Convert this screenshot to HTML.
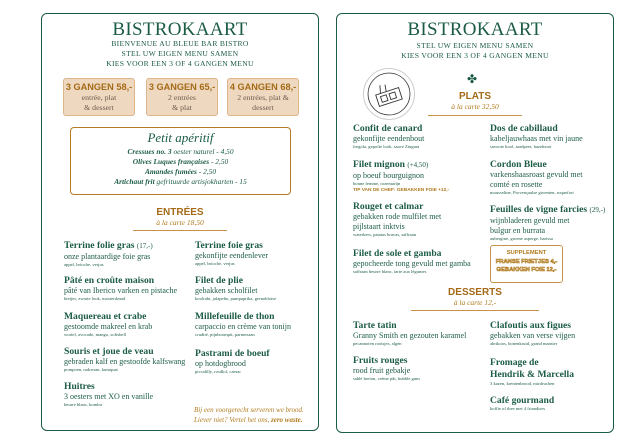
<!DOCTYPE html>
<html><head><meta charset="utf-8"><style>
*{margin:0;padding:0;box-sizing:border-box}
body{width:640px;height:448px;background:#fff;position:relative;overflow:hidden;font-family:"Liberation Serif",serif;color:#1c5c44}
.a{position:absolute;white-space:nowrap}
.panel{position:absolute;border:1.3px solid #1c5c44;border-radius:6px}
.big{font-size:19px;letter-spacing:0.3px;text-align:center;line-height:1}
.sub{font-size:7.6px;text-align:center;line-height:10.2px;letter-spacing:0.3px}
.box{position:absolute;background:#eed8c0;border:1px solid #dcb58b;border-radius:3px;text-align:center;color:#6b5a4a;font-size:7.8px;line-height:10px}
.box b{display:block;font-family:"Liberation Sans",sans-serif;font-weight:900;color:#a46a16;font-size:9.2px;line-height:12px;margin-top:2px}
.h{font-family:"Liberation Sans",sans-serif;font-weight:900;color:#a46a16;text-align:center;font-size:10px;line-height:1}
.ac{font-style:italic;color:#b07a1c;text-align:center;font-size:7.5px;line-height:1}
.line{position:absolute;height:1.2px;background:#c8924a}
.t{font-weight:bold;font-size:9.6px;line-height:11px}
.t span{font-weight:normal;font-size:7px}
.d{font-size:8px;line-height:10px}
.s{font-size:4.6px;line-height:6px}
</style></head><body>
<div class="panel" style="left:41px;top:13px;width:278px;height:418px"></div>
<div class="panel" style="left:336px;top:13px;width:278px;height:420px"></div>

<!-- LEFT -->
<div class="a big" style="left:41px;width:278px;top:20px">BISTROKAART</div>
<div class="a sub" style="left:41px;width:278px;top:39px">BIENVENUE AU BLEUE BAR BISTRO<br>STEL UW EIGEN MENU SAMEN<br>KIES VOOR EEN 3 OF 4 GANGEN MENU</div>
<div class="box" style="left:63px;top:78px;width:72px;height:38px"><b>3 GANGEN 58,-</b>entrée, plat<br>&amp; dessert</div>
<div class="box" style="left:146px;top:78px;width:72px;height:38px"><b>3 GANGEN 65,-</b>2 entrées<br>&amp; plat</div>
<div class="box" style="left:227px;top:78px;width:72px;height:38px"><b>4 GANGEN 68,-</b>2 entrées, plat &amp;<br>dessert</div>
<div class="a" style="left:70px;top:127px;width:221px;height:68px;border:1.5px solid #b57a24;border-radius:4px"></div>
<div class="a" style="left:70px;width:221px;top:130px;text-align:center;font-style:italic;font-size:13px">Petit apéritif</div>
<div class="a" style="left:70px;width:221px;top:147px;text-align:center;font-style:italic;font-size:7.4px;line-height:10px"><b>Cressues no. 3</b> oester naturel - 4,50<br><b>Olives Luques françaises</b> - 2,50<br><b>Amandes fumées</b> - 2,50<br><b>Artichaut frit</b> gefrituurde artisjokharten - 15</div>
<div class="a h" style="left:41px;width:278px;top:208px">ENTRÉES</div>
<div class="a ac" style="left:41px;width:278px;top:219px">à la carte 18,50</div>
<div class="line" style="left:133px;top:230px;width:94px"></div>

<div class="a" style="left:64px;top:240px"><div class="t">Terrine folie gras <span>(17,-)</span></div><div class="d">onze plantaardige foie gras</div><div class="s">appel, brioche, verjus</div></div>
<div class="a" style="left:64px;top:275px"><div class="t">Pâté en croûte maison</div><div class="d">pâté van Iberico varken en pistache</div><div class="s">bietjes, zwarte look, mosterdzaad</div></div>
<div class="a" style="left:64px;top:311px"><div class="t">Maquereau et crabe</div><div class="d">gestoomde makreel en krab</div><div class="s">wortel, avocado, mango, softshell</div></div>
<div class="a" style="left:64px;top:346px"><div class="t">Souris et joue de veau</div><div class="d">gebraden kalf en gestoofde kalfswang</div><div class="s">pompoen, radoeran, kumquat</div></div>
<div class="a" style="left:64px;top:381px"><div class="t">Huitres</div><div class="d">3 oesters met XO en vanille</div><div class="s">beurre blanc, kombu</div></div>

<div class="a" style="left:195px;top:240px"><div class="t">Terrine foie gras</div><div class="d">gekonfijte eendenlever</div><div class="s">appel, brioche, verjus</div></div>
<div class="a" style="left:195px;top:275px"><div class="t">Filet de plie</div><div class="d">gebakken scholfilet</div><div class="s">koolrabi, jalapeño, puntpaprika, grenobloise</div></div>
<div class="a" style="left:195px;top:311px"><div class="t">Millefeuille de thon</div><div class="d">carpaccio en crème van tonijn</div><div class="s">crudité, pijnboompit, parmezaan</div></div>
<div class="a" style="left:195px;top:348px"><div class="t">Pastrami de boeuf</div><div class="d">op hotdogbrood</div><div class="s">piccalilly, rosdlof, caesar</div></div>
<div class="a" style="left:194px;top:405px;font-style:italic;color:#b07a1c;font-size:7px;line-height:10px">Bij een voorgerecht serveren we brood.<br>Liever niet? Vertel het ons, <b>zero waste.</b></div>

<!-- RIGHT -->
<div class="a big" style="left:336px;width:278px;top:20px">BISTROKAART</div>
<div class="a sub" style="left:336px;width:278px;top:41px">STEL UW EIGEN MENU SAMEN<br>KIES VOOR EEN 3 OF 4 GANGEN MENU</div>
<svg class="a" style="left:362px;top:67px" width="54" height="54" viewBox="0 0 54 54"><circle cx="27" cy="27" r="25.5" fill="#fff" stroke="#ccc" stroke-width="1"/><circle cx="27" cy="27" r="21" fill="none" stroke="#333" stroke-width="0.8"/><g transform="rotate(-18 27 30)" fill="none" stroke="#333" stroke-width="0.9"><rect x="15" y="24" width="24" height="12"/><rect x="19" y="27" width="6" height="6"/><rect x="28" y="27" width="6" height="6"/><path d="M20 24 L22 16 M26 24 L27 17"/></g></svg>
<div class="a" style="left:467px;top:72px;color:#1c5c44;font-size:12px">✤</div>
<div class="a h" style="left:336px;width:278px;top:92px">PLATS</div>
<div class="a ac" style="left:336px;width:278px;top:103px">à la carte 32,50</div>
<div class="line" style="left:428px;top:115px;width:94px"></div>

<div class="a" style="left:353px;top:123px"><div class="t">Confit de canard</div><div class="d">gekonfijte eendenbout</div><div class="s">fregola, gepofte look, sauce Zingara</div></div>
<div class="a" style="left:353px;top:159px"><div class="t">Filet mignon <span>(+4,50)</span></div><div class="d">op boeuf bourguignon</div><div class="s">bonne femme, rozemarijn</div><div style="font-family:'Liberation Sans',sans-serif;font-weight:bold;color:#b07a1c;font-size:4.8px;line-height:7px">TIP VAN DE CHEF: GEBAKKEN FOIE +12,-</div></div>
<div class="a" style="left:353px;top:201px"><div class="t">Rouget et calmar</div><div class="d">gebakken rode mulfilet met<br>pijlstaart inktvis</div><div class="s">waterkers, patatas bravas, saffraan</div></div>
<div class="a" style="left:353px;top:248px"><div class="t">Filet de sole et gamba</div><div class="d">gepocheerde tong gevuld met gamba</div><div class="s">saffraan beurre blanc, tarte aux légumes</div></div>

<div class="a" style="left:490px;top:123px"><div class="t">Dos de cabillaud</div><div class="d">kabeljauwhaas met vin jaune</div><div class="s">savooie kool, aardpeer, hazelnoot</div></div>
<div class="a" style="left:490px;top:159px"><div class="t">Cordon Bleue</div><div class="d">varkenshaasroast gevuld met<br>comté en rosette</div><div class="s">mousseline, Provençaalse groenten, roquefort</div></div>
<div class="a" style="left:490px;top:204px"><div class="t">Feuilles de vigne farcies <span>(29,-)</span></div><div class="d">wijnbladeren gevuld met<br>bulgur en burrata</div><div class="s">aubergine, groene asperge, harissa</div></div>
<div class="a" style="left:490px;top:245px;width:73px;height:38px;border:1.3px solid #c8924a;border-radius:3px;text-align:center;font-family:'Liberation Sans',sans-serif;font-weight:900;color:#b07a1c;font-size:5.8px;line-height:8.5px;padding-top:3px">SUPPLEMENT<br><span style="color:#fff;-webkit-text-stroke:0.6px #b07a1c">FRANSE FRIETJES 4,-<br>GEBAKKEN FOIE 12,-</span></div>

<div class="a h" style="left:336px;width:278px;top:288px">DESSERTS</div>
<div class="a ac" style="left:336px;width:278px;top:299px">à la carte 12,-</div>
<div class="line" style="left:411px;top:310px;width:128px"></div>

<div class="a" style="left:353px;top:320px"><div class="t">Tarte tatin</div><div class="d">Granny Smith en gezouten karamel</div><div class="s">pecannoten rootsjes, algen</div></div>
<div class="a" style="left:353px;top:355px"><div class="t">Fruits rouges</div><div class="d">rood fruit gebakje</div><div class="s">sablé breton, crème pât, bubble gum</div></div>
<div class="a" style="left:490px;top:320px"><div class="t">Clafoutis aux figues</div><div class="d">gebakken van verse vijgen</div><div class="s">abrikoos, bonenkruid, grand marnier</div></div>
<div class="a" style="left:490px;top:357px"><div class="t" style="line-height:12px">Fromage de<br>Hendrik &amp; Marcella</div><div class="s">3 kazen, krentenbrood, mirdruchen</div></div>
<div class="a" style="left:490px;top:395px"><div class="t">Café gourmand</div><div class="s">koffie of thee met 4 friandises</div></div>
</body></html>
